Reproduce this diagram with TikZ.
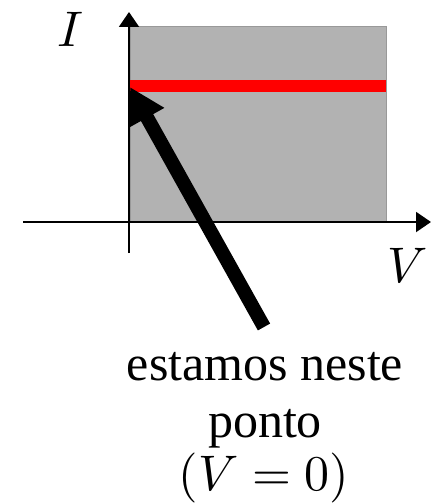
\documentclass[tikz,border=0pt]{standalone}
\usepackage{fontspec}
\setmainfont{Liberation Serif}
\usetikzlibrary{arrows.meta}
\tikzset{
  axis/.style={line width=2pt,-{Triangle[length=15pt,width=20pt]}},
  big/.style={inner sep=0pt,font=\fontsize{10}{12}\selectfont,scale=5},
  pointer/.style={line width=14pt,-{Triangle[length=35pt,width=37pt]}}
}
\begin{document}
\begin{tikzpicture}[x=1pt,y=-1pt]
\useasboundingbox (0,0) rectangle (433,503);
% region
\node[draw=black!40,fill=black!30,line width=1.2pt,inner sep=0pt,minimum width=256pt,minimum height=196pt,anchor=north west] (area) at (130,26) {};
% red line
\coordinate (r1) at (130,86);
\coordinate (r2) at (386,86);
\draw[red,line width=12pt] (r1) -- (r2);
% axes
\coordinate (vb) at (129,253);
\coordinate (vt) at (129,12);
\coordinate (hl) at (23,222);
\coordinate (hr) at (431,222);
\draw[axis] (vb) -- (vt);
\draw[axis] (hl) -- (hr);
% labels
\node[big,anchor=base] (I) at (70,47) {$I$};
\node[big,anchor=base] (V) at (408,282) {$V$};
% pointer arrow
\coordinate (tail) at (264,327);
\coordinate (tip) at (130,87);
\draw[pointer] (tail) -- (tip);
% caption
\node[big,anchor=base] (t1) at (265,380) {estamos neste};
\node[big,anchor=base] (t2) at (265,437) {ponto};
\node[big,anchor=base] (t3) at (264,490) {$(V=0)$};
\end{tikzpicture}
\end{document}
